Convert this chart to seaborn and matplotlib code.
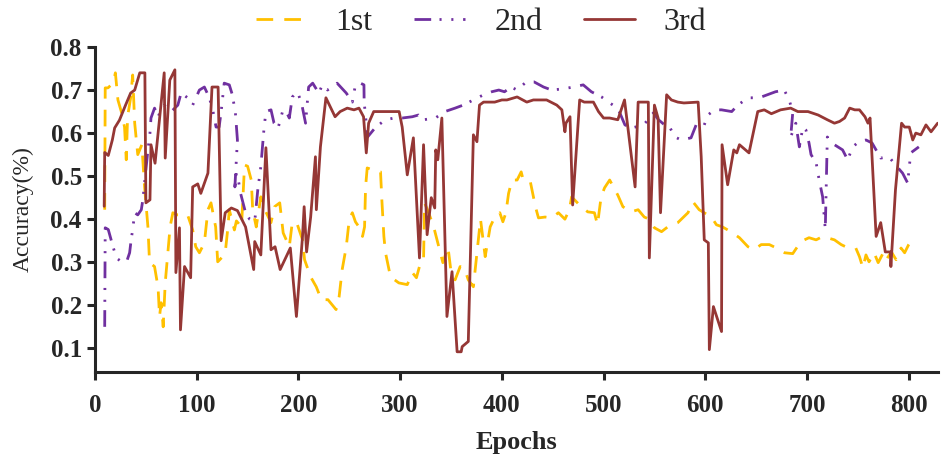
import matplotlib
matplotlib.use('Agg')
import matplotlib.pyplot as plt
import pandas as pd
import seaborn as sns

# 1st run (yellow dashed)
ep1 = [9.5, 10, 12.7, 17.7, 20, 22.5, 25.8, 29, 30.7, 32, 35, 37, 39, 42, 46, 48.7, 52, 53.6, 58.5, 62,
       63.4, 65, 67, 69, 71.6, 73.8, 76.5, 81, 86, 91, 96, 99, 102.6, 107.5, 111, 114, 118.6, 120.6, 125.5, 128,
       130.7, 132, 137, 139, 144, 147, 150, 153.6, 155, 158.5, 163, 167, 173, 176.5, 181.6, 185, 188, 191, 194, 199,
       204, 206, 212, 217.5, 222.5, 229, 237, 240, 243, 247, 250, 253, 256, 259.5, 263, 265, 266, 267.6, 272.5, 280.7,
       282, 284, 285.6, 290.5, 298.7, 307, 312, 316, 320, 323, 324, 328, 333, 338, 342, 347, 350, 354, 359, 363,
       367, 372, 375.5, 379, 383.6, 388.5, 393, 398, 401, 404, 406.6, 410, 415, 419, 421, 428, 433, 436, 442.5, 449,
       455.6, 462, 466.4, 468.6, 478, 484.5, 491, 494, 497.6, 501, 506, 514, 519, 527, 534, 540, 545, 550, 557, 563,
       573, 583, 588, 594, 599, 606, 611, 617, 625, 633.6, 642, 648, 655, 663, 670, 678, 686, 694, 702, 709,
       715.6, 727, 733.6, 738, 748, 751.6, 755, 758, 761, 766, 770, 775, 778, 783, 787.6, 792.5, 796, 800, 803]
acc1 = [0.422, 0.705, 0.705, 0.716, 0.74, 0.677, 0.65, 0.614, 0.538, 0.638, 0.682, 0.735, 0.623, 0.55, 0.573, 0.475, 0.382, 0.299, 0.29, 0.241,
        0.174, 0.206, 0.15, 0.252, 0.322, 0.382, 0.415, 0.41, 0.41, 0.41, 0.375, 0.336, 0.322, 0.345, 0.422, 0.438, 0.382, 0.301, 0.313, 0.322,
        0.382, 0.422, 0.375, 0.396, 0.382, 0.526, 0.523, 0.491, 0.422, 0.382, 0.452, 0.422, 0.392, 0.429, 0.438, 0.368, 0.352, 0.336, 0.394, 0.387,
        0.352, 0.306, 0.266, 0.243, 0.213, 0.213, 0.19, 0.22, 0.283, 0.336, 0.4, 0.415, 0.394, 0.382, 0.36, 0.382, 0.475, 0.519, 0.515, 0.51,
        0.445, 0.36, 0.322, 0.266, 0.252, 0.248, 0.276, 0.264, 0.299, 0.306, 0.438, 0.415, 0.382, 0.336, 0.299, 0.336, 0.278, 0.259, 0.29, 0.287,
        0.259, 0.243, 0.322, 0.4, 0.313, 0.382, 0.405, 0.415, 0.394, 0.415, 0.46, 0.491, 0.491, 0.51, 0.491, 0.487, 0.429, 0.403, 0.405, 0.403,
        0.415, 0.4, 0.422, 0.452, 0.429, 0.417, 0.415, 0.387, 0.452, 0.473, 0.491, 0.456, 0.429, 0.417, 0.422, 0.405, 0.4, 0.38, 0.371, 0.382,
        0.392, 0.415, 0.44, 0.422, 0.415, 0.405, 0.387, 0.382, 0.371, 0.357, 0.336, 0.329, 0.341, 0.341, 0.333, 0.322, 0.32, 0.348, 0.357, 0.352,
        0.36, 0.352, 0.341, 0.336, 0.333, 0.313, 0.287, 0.317, 0.301, 0.322, 0.299, 0.322, 0.306, 0.324, 0.306, 0.333, 0.322, 0.341, 0.352]

# 2nd run (purple dash-dot-dot)
ep2 = [9.5, 10, 13, 17.7, 21, 26, 31, 34, 35.5, 37, 39, 42, 45.5, 47, 50, 52, 54, 55, 58.5, 62,
       65, 68, 75, 81.4, 84.6, 91, 96, 102.6, 107.5, 112.4, 115.7, 119, 122, 124, 127, 132, 135, 138, 140, 137.5,
       139, 141, 143, 148, 152, 157, 160, 163, 166, 168, 173, 176, 180, 184.8, 188, 191, 194, 199, 203, 207,
       210, 214, 220, 223.5, 228.6, 238, 247, 253, 256, 261, 264.4, 264.6, 268, 276, 285.6, 294, 302, 312, 318, 323,
       334.6, 344, 354, 362, 372, 382, 390, 397, 402.6, 409, 415, 424, 431.6, 441, 449, 461, 470, 480, 488, 498,
       506, 514, 521, 527.6, 533, 539, 544, 549, 554, 560, 565, 570, 576.5, 586, 591, 599, 602.6, 609, 616, 626,
       632, 642, 653, 661, 669, 677.6, 682.6, 686, 684, 689, 691, 692.5, 696, 699, 702, 704, 709, 712, 715.4, 718,
       720, 727, 735, 740, 745, 751, 758, 764, 772.5, 780.6, 787, 794, 799, 802, 810]
acc2 = [0.15, 0.38, 0.376, 0.336, 0.31, 0.301, 0.301, 0.322, 0.352, 0.376, 0.415, 0.41, 0.422, 0.445, 0.515, 0.561, 0.6, 0.635, 0.658, 0.638,
        0.654, 0.665, 0.65, 0.665, 0.693, 0.682, 0.665, 0.70, 0.707, 0.682, 0.654, 0.614, 0.614, 0.65, 0.716, 0.712, 0.689, 0.647, 0.584, 0.475,
        0.507, 0.49, 0.461, 0.415, 0.4, 0.394, 0.468, 0.522, 0.607, 0.65, 0.654, 0.623, 0.612, 0.654, 0.65, 0.635, 0.684, 0.696, 0.67, 0.623,
        0.707, 0.716, 0.693, 0.712, 0.70, 0.716, 0.693, 0.672, 0.712, 0.716, 0.712, 0.672, 0.591, 0.614, 0.631, 0.635, 0.635, 0.638, 0.642, 0.631,
        0.635, 0.65, 0.658, 0.665, 0.677, 0.689, 0.696, 0.70, 0.696, 0.707, 0.70, 0.719, 0.719, 0.707, 0.70, 0.703, 0.707, 0.712, 0.696, 0.684,
        0.67, 0.658, 0.619, 0.612, 0.615, 0.619, 0.631, 0.647, 0.631, 0.619, 0.614, 0.591, 0.584, 0.589, 0.619, 0.619, 0.642, 0.654, 0.654, 0.65,
        0.665, 0.682, 0.682, 0.689, 0.696, 0.70, 0.677, 0.647, 0.591, 0.623, 0.591, 0.568, 0.614, 0.607, 0.577, 0.55, 0.531, 0.491, 0.452, 0.376,
        0.591, 0.573, 0.561, 0.538, 0.568, 0.58, 0.584, 0.577, 0.542, 0.545, 0.526, 0.507, 0.484, 0.554, 0.568]

# 3rd run (brown solid)
ep3 = [9, 9.5, 13, 17, 19.3, 24, 30, 35, 39, 44, 49, 50, 54, 55, 59, 68, 69, 73.5, 78.5, 79.5,
       83, 84, 88, 94, 96, 101, 104, 111, 115, 121, 124, 128, 134, 140, 148, 156, 157, 163, 168, 173,
       177, 182, 192, 198, 204, 205.6, 208, 212, 216.7, 217.6, 221.6, 227, 236, 241, 248, 254.6, 259.5, 264, 266.7, 269,
       274, 282, 299, 302, 307, 313, 319, 323, 326.5, 330.6, 334, 335, 337, 341, 346, 351, 356, 360, 361, 367,
       372, 375.5, 378, 382, 393, 400, 405, 415, 424.5, 431, 444, 454, 459, 462, 463, 467, 469.6, 476.5, 481, 490,
       495, 500, 506, 514, 520.6, 531, 534, 544, 545, 550, 553.6, 556, 562, 566.7, 573, 579, 593, 596, 599, 603,
       604, 608, 616, 616.5, 622, 628, 631, 633.6, 643, 651.6, 658, 665, 674, 684, 691, 701, 711, 720, 727, 732,
       737, 742, 747, 751.6, 757, 760, 762, 768, 772.5, 777, 782, 782.5, 787, 793, 796, 800.6, 804, 807, 812, 817,
       822, 828.5]
acc3 = [0.43, 0.555, 0.548, 0.584, 0.612, 0.63, 0.665, 0.693, 0.70, 0.74, 0.74, 0.438, 0.445, 0.573, 0.53, 0.74, 0.542, 0.723, 0.747, 0.276,
        0.38, 0.143, 0.29, 0.264, 0.475, 0.482, 0.46, 0.507, 0.707, 0.707, 0.35, 0.415, 0.426, 0.42, 0.382, 0.283, 0.348, 0.317, 0.566, 0.329,
        0.336, 0.283, 0.333, 0.174, 0.36, 0.429, 0.324, 0.405, 0.545, 0.422, 0.568, 0.682, 0.638, 0.65, 0.658, 0.654, 0.658, 0.638, 0.554, 0.623,
        0.65, 0.65, 0.65, 0.614, 0.503, 0.589, 0.31, 0.573, 0.364, 0.45, 0.426, 0.561, 0.538, 0.635, 0.174, 0.278, 0.092, 0.092, 0.104, 0.116,
        0.596, 0.58, 0.665, 0.672, 0.672, 0.677, 0.677, 0.684, 0.672, 0.677, 0.677, 0.665, 0.654, 0.603, 0.623, 0.638, 0.433, 0.677, 0.672, 0.672,
        0.65, 0.635, 0.635, 0.631, 0.677, 0.475, 0.672, 0.672, 0.31, 0.665, 0.635, 0.415, 0.689, 0.677, 0.672, 0.67, 0.672, 0.545, 0.352, 0.345,
        0.097, 0.197, 0.139, 0.573, 0.48, 0.561, 0.554, 0.573, 0.554, 0.65, 0.654, 0.645, 0.654, 0.658, 0.65, 0.65, 0.642, 0.631, 0.623, 0.627,
        0.635, 0.658, 0.654, 0.654, 0.638, 0.623, 0.635, 0.36, 0.392, 0.324, 0.324, 0.29, 0.468, 0.623, 0.614, 0.614, 0.584, 0.6, 0.596, 0.619,
        0.603, 0.623]

labels = ['1st', '2nd', '3rd']
colors = ['#FFC000', '#7030A0', '#953735']

sns.set_style('ticks')
plt.rcParams['font.family'] = ['Liberation Serif', 'DejaVu Serif']
plt.rcParams['lines.scale_dashes'] = False

fig = plt.figure(figsize=(9.41, 4.63), dpi=100)
ax = fig.add_axes([0.101, 0.1965, 0.896, 0.702])

d1 = pd.DataFrame({'Epochs': ep1, 'Accuracy': acc1})
d2 = pd.DataFrame({'Epochs': ep2, 'Accuracy': acc2})
d3 = pd.DataFrame({'Epochs': ep3, 'Accuracy': acc3})

sns.lineplot(data=d1, x='Epochs', y='Accuracy', sort=False, estimator=None, ax=ax,
             color=colors[0], lw=2.0, linestyle=(0, (12, 8)), label=labels[0])
sns.lineplot(data=d2, x='Epochs', y='Accuracy', sort=False, estimator=None, ax=ax,
             color=colors[1], lw=2.0, linestyle=(0, (12, 6, 1.5, 7, 1.5, 7)), label=labels[1])
sns.lineplot(data=d3, x='Epochs', y='Accuracy', sort=False, estimator=None, ax=ax,
             color=colors[2], lw=2.0, label=labels[2])

ax.set_xlim(0, 829)
ax.set_ylim(0.045, 0.8)
ax.set_xticks(range(0, 801, 100))
ax.set_yticks([0.1, 0.2, 0.3, 0.4, 0.5, 0.6, 0.7, 0.8])
sns.despine(ax=ax)
for s in ['left', 'bottom']:
    ax.spines[s].set_linewidth(2.2)
ax.tick_params(width=2.2, length=6, labelsize=18)
ax.tick_params(axis='x', pad=10)
for t in ax.get_xticklabels() + ax.get_yticklabels():
    t.set_fontweight('bold')

ax.set_xlabel('Epochs', fontsize=19, fontweight='bold', labelpad=10)
ax.set_ylabel('Accuracy(%)', fontsize=17, labelpad=12)

ax.legend(loc='upper center', bbox_to_anchor=(481 / 941, 1.025), bbox_transform=fig.transFigure,
          ncol=3, frameon=False, fontsize=23, handlelength=1.6, handletextpad=0.9, columnspacing=1.3,
          borderpad=0.1)

plt.savefig('out.png', dpi=100)
